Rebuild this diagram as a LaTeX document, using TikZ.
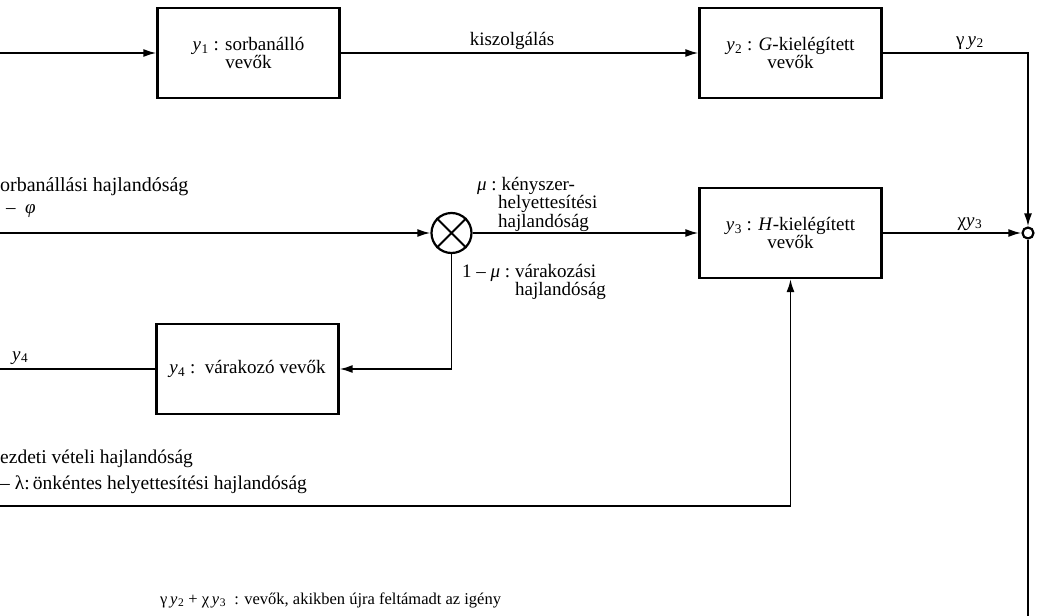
\documentclass[tikz,border=0pt]{standalone}
\usepackage{fontspec}
\setmainfont{Liberation Serif}
\usetikzlibrary{arrows.meta}
\newcommand\yv[1]{\textit{y}\kern0.5pt\textsubscript{#1}}
\begin{document}
\begin{tikzpicture}[x=1pt,y=-1pt,
  every node/.style={font=\fontsize{19}{16}\selectfont},
  blk/.style={draw,line width=2.2pt,minimum width=182pt,minimum height=90pt,align=center,inner sep=2pt},
  ln/.style={line width=1.8pt},
  arr/.style={ln,-{Latex[length=13pt,width=8pt]}},
  lbl/.style={inner sep=0pt,anchor=base west},
  mlbl/.style={inner sep=0pt,anchor=north west,align=left,font=\fontsize{19}{15.5}\selectfont},
  clbl/.style={inner sep=0pt,anchor=base}]
\useasboundingbox (0,0) rectangle (1037,616);
% blocks
\node[blk] (b1) at (248.5,53) {\yv{1} : sorbanálló\\vevők};
\node[blk] (b2) at (790.5,53) {\yv{2} : \textit{G}-kielégített\\vevők};
\node[blk] (b3) at (790.5,233) {\yv{3} : \textit{H}-kielégített\\vevők};
\node[blk] (b4) at (247.5,369) {\yv{4} :\ \ várakozó vevők};
\node[circle,draw,line width=2.2pt,minimum size=40pt,inner sep=0pt] (m) at (451.5,233) {};
\node[circle,draw,line width=2.2pt,minimum size=11pt,inner sep=0pt] (s) at (1028,233) {};
% free ends
\coordinate (in1) at (0,53);
\coordinate (in2) at (0,233);
\coordinate (out4) at (0,369);
\coordinate (in3) at (0,506);
\coordinate (send) at (1028,616);
% cross
\draw[ln] (m.north west) -- (m.south east) (m.north east) -- (m.south west);
% connectors
\draw[arr] (in1) -- (b1.west);
\draw[arr] (b1.east) -- (b2.west);
\draw[arr] (b2.east) -| (s.north);
\draw[arr] (in2) -- (m.west);
\draw[arr] (m.east) -- (b3.west);
\draw[arr] (b3.east) -- (s.west);
\draw[arr] (m.south) |- (b4.east);
\draw[ln] (b4.west) -- (out4);
\draw[arr] (in3) -| (b3.south);
\draw[ln] (s.south) -- (send);
% labels
\node[clbl] (lk) at (512,45) {kiszolgálás};
\node[clbl] (lg) at (970,45) {γ\,\yv{2}};
\node[clbl] (lx) at (970,226) {χ\yv{3}};
\node[mlbl] (lmu) at (477,177) {\textit{μ} :\ kényszer-\\\hspace*{21pt}helyettesítési\\\hspace*{21pt}hajlandóság};
\node[mlbl] (lw) at (462,264) {1 -- \textit{μ} :\ várakozási\\\hspace*{53pt}hajlandóság};
\node[lbl,font=\fontsize{20}{16}\selectfont] (lo) at (0,191) {orbanállási hajlandóság};
\node[lbl] (lphi) at (6,213) {--\ \ \textit{φ}};
\node[lbl] (ly4) at (12,360) {\yv{4}};
\node[lbl,font=\fontsize{19.5}{16}\selectfont] (le) at (0,463) {ezdeti vételi hajlandóság};
\node[lbl,font=\fontsize{19.5}{16}\selectfont] (ll) at (0,489) {-- λ:\,önkéntes helyettesítési hajlandóság};
\node[lbl,font=\fontsize{16.5}{16}\selectfont] (lsum) at (160,604) {γ\,\yv{2} + χ\,\yv{3}\ \ : vevők, akikben újra feltámadt az igény};
\end{tikzpicture}
\end{document}
